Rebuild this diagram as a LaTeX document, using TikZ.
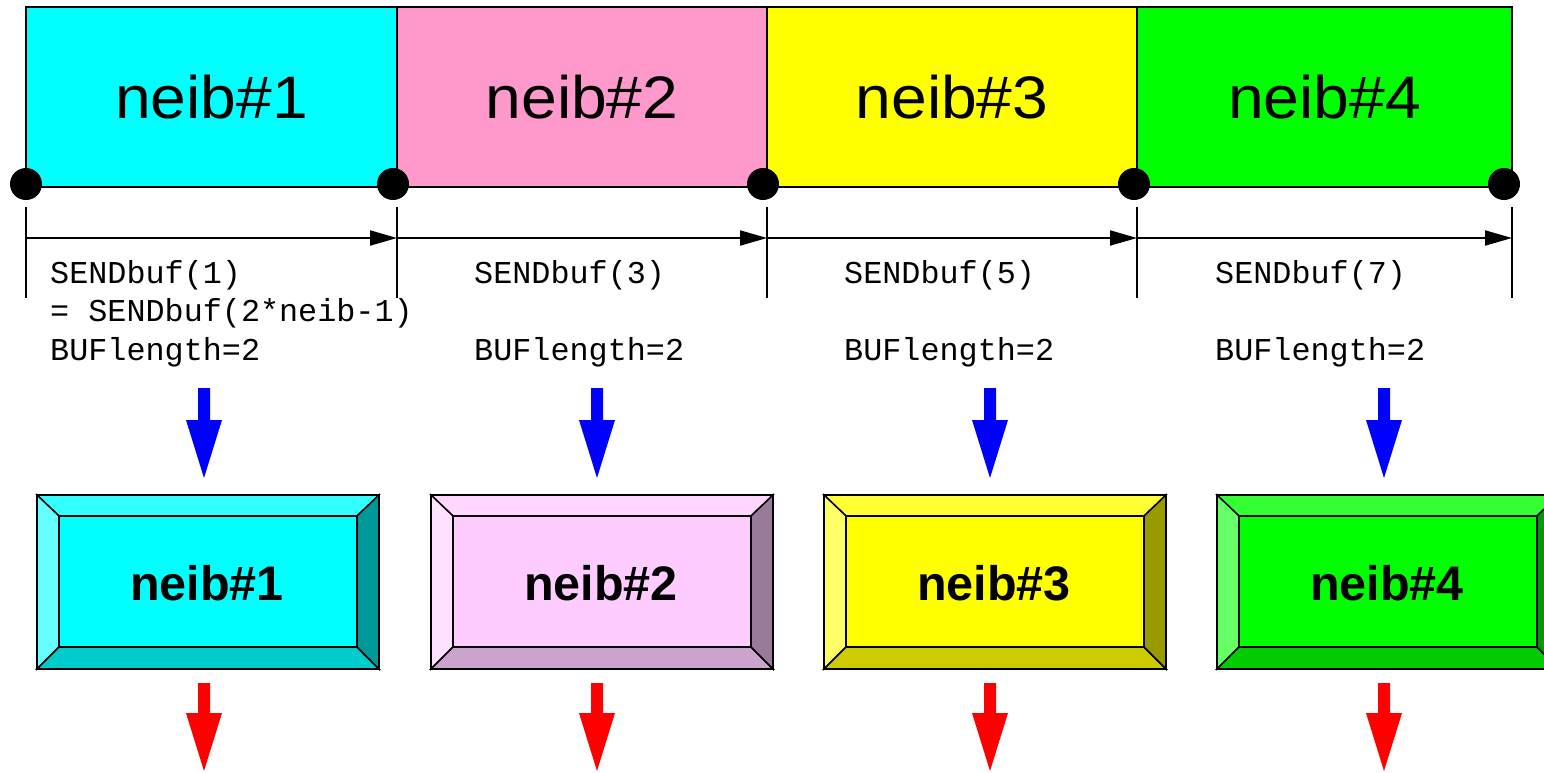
\documentclass[tikz,border=0pt]{standalone}
\usepackage{fontspec}
\setmainfont{Liberation Sans}
\setmonofont{Liberation Mono}
\usetikzlibrary{arrows.meta}
\definecolor{cCyan}{RGB}{0,255,255}
\definecolor{cPink}{RGB}{255,153,204}
\definecolor{cYel}{RGB}{255,255,0}
\definecolor{cGrn}{RGB}{0,255,0}
\definecolor{bPink}{RGB}{255,204,255}
\definecolor{cBlue}{RGB}{0,0,255}
\definecolor{cRed}{RGB}{255,0,0}
\tikzset{
  topbox/.style={draw=black, line width=2pt, minimum width=371pt, minimum height=180pt, inner sep=0pt},
  toplabel/.style={anchor=base, inner sep=0pt, font=\fontsize{60}{60}\selectfont},
  dot/.style={circle, fill=black, minimum size=32pt, inner sep=0pt},
  tick/.style={line width=2pt},
  dimarrow/.style={line width=2pt, -{Triangle[length=27pt,width=15pt]}},
  code/.style={anchor=base west, inner sep=0pt, font=\ttfamily\fontsize{31.8}{38}\selectfont},
  face/.style={draw=black, line width=1.5pt, line join=miter},
  front/.style={draw=black, line width=2pt, minimum width=298pt, minimum height=131pt, inner sep=0pt},
  botlabel/.style={anchor=base, inner sep=0pt, font=\bfseries\fontsize{48.5}{48.5}\selectfont},
}
\newcommand\bevbox[4]{% #1 left x, #2 name, #3 base colour, #4 label
  \begin{scope}[shift={(#1,0)}]
    \path[face, fill=#3!80!white] (0,495) -- (342,495) -- (320,516) -- (22,516) -- cycle;
    \path[face, fill=#3!60!white] (0,495) -- (22,516) -- (22,647) -- (0,669) -- cycle;
    \path[face, fill=#3!80!black] (0,669) -- (22,647) -- (320,647) -- (342,669) -- cycle;
    \path[face, fill=#3!60!black] (342,495) -- (342,669) -- (320,647) -- (320,516) -- cycle;
    \draw[line width=2pt] (0,495) rectangle (342,669);
    \node[front, fill=#3] (#2) at (171,581.5) {};
    \node[botlabel] (#2l) at (170,600) {#4};
  \end{scope}}
\newcommand\blockarrow[4]{% #1 centre x, #2 top y, #3 head y, #4 colour
  \fill[#4] (#1-6,#2) -- (#1+6,#2) -- (#1+6,#3) -- (#1+18,#3) -- (#1,#3+58) -- (#1-18,#3) -- (#1-6,#3) -- cycle;}
\begin{document}
\begin{tikzpicture}[x=1pt,y=-1pt]
\clip (0,0) rectangle (1544,772);
\fill[white] (0,0) rectangle (1544,772);
% top coloured segments
\node[topbox, fill=cCyan] (t1) at (211.5,97) {};
\node[topbox, fill=cPink] (t2) at (582,97) {};
\node[topbox, fill=cYel]  (t3) at (952,97) {};
\node[topbox, fill=cGrn, minimum width=375pt] (t4) at (1324.5,97) {};
\node[toplabel] (t1l) at (211.5,118) {\scalebox{1.07}[1]{neib\#1}};
\node[toplabel] (t2l) at (582,118) {\scalebox{1.07}[1]{neib\#2}};
\node[toplabel] (t3l) at (952,118) {\scalebox{1.07}[1]{neib\#3}};
\node[toplabel] (t4l) at (1324.5,118) {\scalebox{1.07}[1]{neib\#4}};
% dots
\node[dot] (d1) at (26,184) {};
\node[dot] (d2) at (393,184) {};
\node[dot] (d3) at (763,184) {};
\node[dot] (d4) at (1134,184) {};
\node[dot] (d5) at (1504,184) {};
% ticks and dimension arrows
\foreach \i/\x in {1/26,2/397,3/767,4/1137,5/1512}{
  \coordinate (ka\i) at (\x,207);
  \coordinate (kb\i) at (\x,298);
  \coordinate (a\i) at (\x,238);
  \draw[tick] (ka\i) -- (kb\i);
}
\draw[dimarrow] (a1) -- (a2);
\draw[dimarrow] (a2) -- (a3);
\draw[dimarrow] (a3) -- (a4);
\draw[dimarrow] (a4) -- (a5);
% code texts
\node[code] (s1) at (50,283) {SENDbuf(1)};
\node[code] (s1b) at (50,321.5) {= SENDbuf(2*neib-1)};
\node[code] (l1) at (50,360) {BUFlength=2};
\node[code] (s2) at (474,283) {SENDbuf(3)};
\node[code] (l2) at (474,360) {BUFlength=2};
\node[code] (s3) at (844,283) {SENDbuf(5)};
\node[code] (l3) at (844,360) {BUFlength=2};
\node[code] (s4) at (1215,283) {SENDbuf(7)};
\node[code] (l4) at (1215,360) {BUFlength=2};
% block arrows
\blockarrow{204}{388}{420}{cBlue}
\blockarrow{597}{388}{420}{cBlue}
\blockarrow{990}{388}{420}{cBlue}
\blockarrow{1384}{388}{420}{cBlue}
\blockarrow{204}{683}{713}{cRed}
\blockarrow{597}{683}{713}{cRed}
\blockarrow{990}{683}{713}{cRed}
\blockarrow{1384}{683}{713}{cRed}
% bevelled boxes
\bevbox{37}{b1}{cCyan}{neib\#1}
\bevbox{431}{b2}{bPink}{neib\#2}
\bevbox{824}{b3}{cYel}{neib\#3}
\bevbox{1217}{b4}{cGrn}{neib\#4}
\end{tikzpicture}
\end{document}
